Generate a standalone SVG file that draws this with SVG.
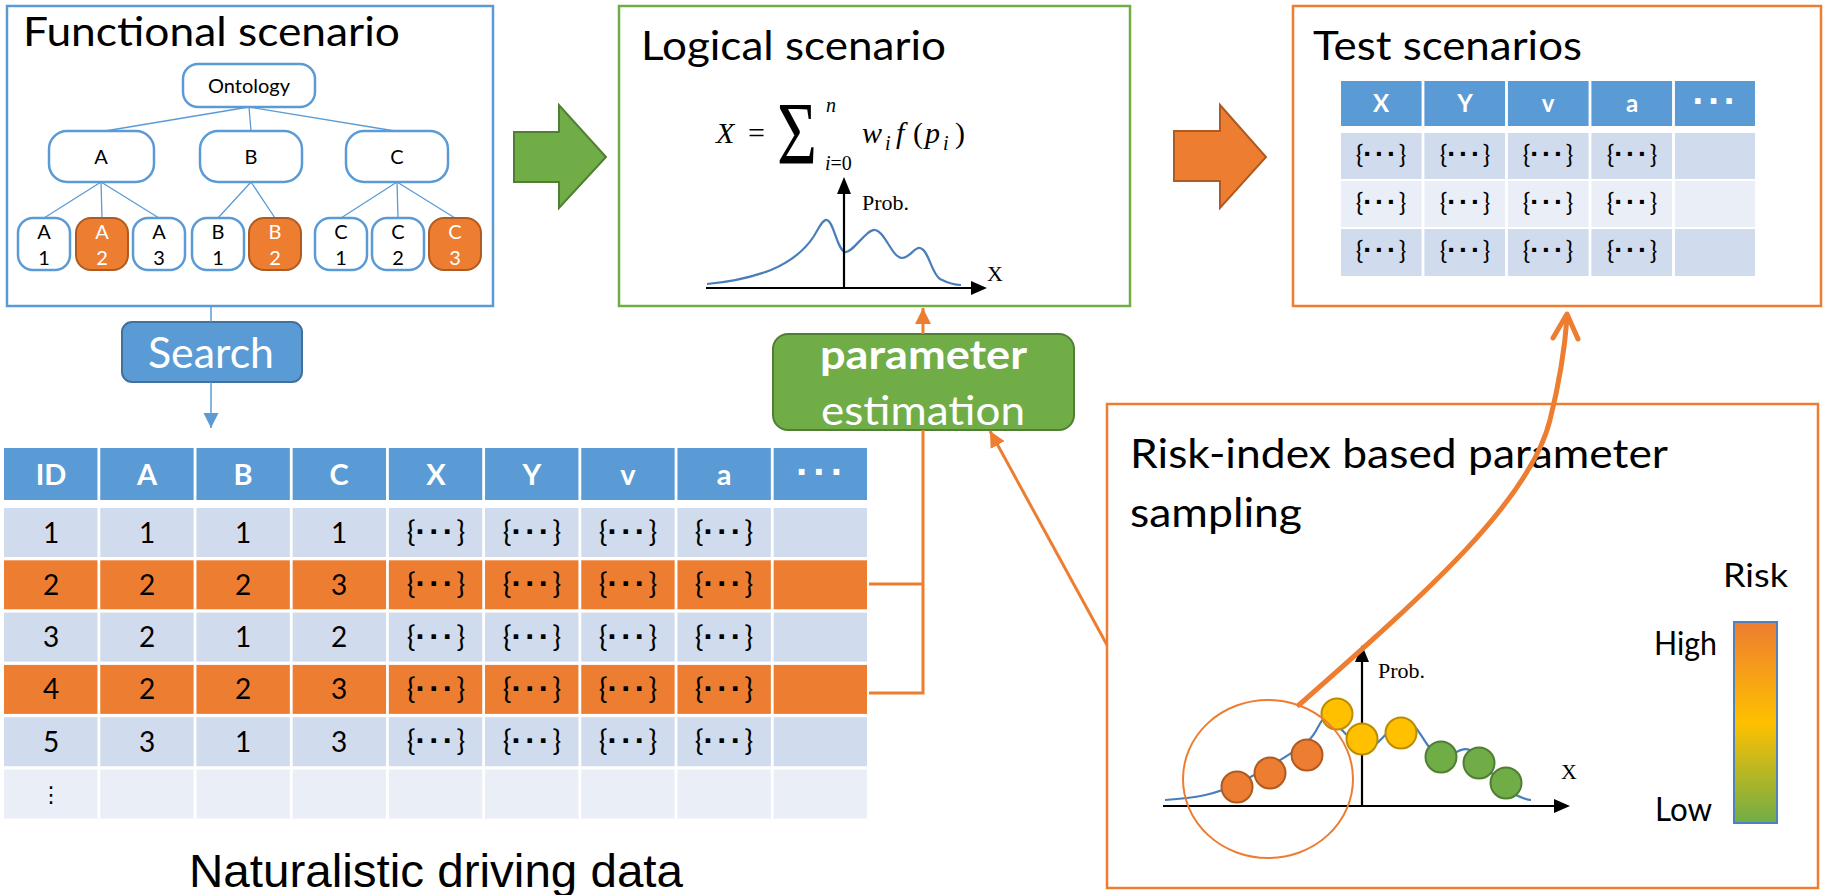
<svg xmlns="http://www.w3.org/2000/svg" width="1827" height="895" viewBox="0 0 1827 895">
<defs>
<style>
.sans{font-family:Lato,"Open Sans",sans-serif}
.title{font-family:Lato,"Open Sans",sans-serif;font-size:41px;fill:#000}
.node{fill:#fff;stroke:#5B9BD5;stroke-width:2.5}
.nodeo{fill:#ED7D31;stroke:#AE5A21;stroke-width:2}
.nt{font-family:Lato,"Open Sans",sans-serif;font-size:20px;fill:#000;text-anchor:middle}
.ntw{font-family:Lato,"Open Sans",sans-serif;font-size:20px;fill:#fff;text-anchor:middle}
.tree{stroke:#5B9BD5;stroke-width:1.3;fill:none}
.hdr{fill:#5B9BD5}
.r1{fill:#D0DBEE}
.r2{fill:#E9EEF7}
.ro{fill:#ED7D31}
.sep{stroke:#fff;stroke-width:2.8}
.ht{font-family:Lato,"Open Sans",sans-serif;font-weight:bold;font-size:29px;fill:#fff;text-anchor:middle}
.ct{font-family:Lato,"Open Sans",sans-serif;font-size:28px;fill:#000;text-anchor:middle}
.bt{font-family:Lato,sans-serif;font-size:29px;fill:#000;text-anchor:middle}
.ht2{font-family:Lato,"Open Sans",sans-serif;font-weight:bold;font-size:24px;fill:#fff;text-anchor:middle}
.bt2{font-family:Lato,sans-serif;font-size:25px;fill:#000;text-anchor:middle}
.d1{font-family:"Liberation Sans",Arial,sans-serif;font-weight:bold;font-size:32px;letter-spacing:3px}
.d2{font-family:"Liberation Sans",Arial,sans-serif;font-weight:bold;font-size:28px;letter-spacing:2.5px}
.dh{font-family:"Liberation Sans",Arial,sans-serif;font-weight:bold;fill:#fff;text-anchor:middle}
.serif{font-family:"Liberation Serif","Times New Roman",serif;fill:#000}
.it{font-style:italic}
.axis{stroke:#000;stroke-width:2.2;fill:none}
.curve{stroke:#4A7EBB;stroke-width:2.2;fill:none}
.oline{stroke:#ED7D31;stroke-width:3;fill:none}
</style>
<marker id="ao" viewBox="0 0 10 10" refX="10" refY="5" markerWidth="16" markerHeight="16" markerUnits="userSpaceOnUse" orient="auto">
<path d="M0,0 L10,5 L0,10 z" fill="#ED7D31"/>
</marker>
<marker id="ab" viewBox="0 0 10 10" refX="10" refY="5" markerWidth="15" markerHeight="16" markerUnits="userSpaceOnUse" orient="auto">
<path d="M0,0 L10,5 L0,10 z" fill="#5B9BD5"/>
</marker>
<linearGradient id="riskg" x1="0" y1="0" x2="0" y2="1">
<stop offset="0" stop-color="#ED7D31"/>
<stop offset="0.5" stop-color="#FFC000"/>
<stop offset="1" stop-color="#70AD47"/>
</linearGradient>
</defs>
<rect width="1827" height="895" fill="#fff"/>

<!-- Functional scenario -->
<g id="functional-scenario">
<rect x="7" y="6" width="486" height="300" fill="#fff" stroke="#5B9BD5" stroke-width="2.5"/>
<text class="title" x="23" y="46" textLength="377" lengthAdjust="spacingAndGlyphs">Functional scenario</text>
</g>
<g id="tree-lines">
<path class="tree" d="M249,107 L105,131 M249,107 L251,131 M249,107 L395,131 M101,182 L44,218 M101,182 L102,218 M101,182 L159,218 M251,182 L218,218 M251,182 L275,218 M397,182 L341,218 M397,182 L398,218 M397,182 L455,218"/>
</g>
<g id="node-ontology"><rect class="node" x="183" y="64" width="132" height="43" rx="15"/><text class="nt" x="249" y="93" font-size="21">Ontology</text></g>
<g id="node-A"><rect class="node" x="49" y="131" width="105" height="51" rx="18"/><text class="nt" x="101" y="164">A</text></g>
<g id="node-B"><rect class="node" x="200" y="131" width="102" height="51" rx="18"/><text class="nt" x="251" y="164">B</text></g>
<g id="node-C"><rect class="node" x="346" y="131" width="102" height="51" rx="18"/><text class="nt" x="397" y="164">C</text></g>
<g id="node-A1"><rect class="node" x="18" y="218" width="52" height="52" rx="15"/><text class="nt" x="44" y="239">A</text><text class="nt" x="44" y="265">1</text></g>
<g id="node-A2"><rect class="nodeo" x="76" y="218" width="52" height="52" rx="15"/><text class="ntw" x="102" y="239">A</text><text class="ntw" x="102" y="265">2</text></g>
<g id="node-A3"><rect class="node" x="133" y="218" width="52" height="52" rx="15"/><text class="nt" x="159" y="239">A</text><text class="nt" x="159" y="265">3</text></g>
<g id="node-B1"><rect class="node" x="192" y="218" width="52" height="52" rx="15"/><text class="nt" x="218" y="239">B</text><text class="nt" x="218" y="265">1</text></g>
<g id="node-B2"><rect class="nodeo" x="249" y="218" width="52" height="52" rx="15"/><text class="ntw" x="275" y="239">B</text><text class="ntw" x="275" y="265">2</text></g>
<g id="node-C1"><rect class="node" x="315" y="218" width="52" height="52" rx="15"/><text class="nt" x="341" y="239">C</text><text class="nt" x="341" y="265">1</text></g>
<g id="node-C2"><rect class="node" x="372" y="218" width="52" height="52" rx="15"/><text class="nt" x="398" y="239">C</text><text class="nt" x="398" y="265">2</text></g>
<g id="node-C3"><rect class="nodeo" x="429" y="218" width="52" height="52" rx="15"/><text class="ntw" x="455" y="239">C</text><text class="ntw" x="455" y="265">3</text></g>

<!-- Logical scenario -->
<g id="logical-scenario">
<rect x="619" y="6" width="511" height="300" fill="#fff" stroke="#70AD47" stroke-width="2.5"/>
<text class="title" x="641" y="60" textLength="305" lengthAdjust="spacingAndGlyphs">Logical scenario</text>
<text class="serif it" x="716" y="143" font-size="30">X</text>
<text class="serif" x="748" y="143" font-size="30">=</text>
<text class="serif" x="777" y="163" font-size="88" textLength="40" lengthAdjust="spacingAndGlyphs">Σ</text>
<text class="serif it" x="826" y="112" font-size="20">n</text>
<text class="serif" x="825" y="170" font-size="20"><tspan font-style="italic">i</tspan>=0</text>
<text class="serif it" x="862" y="143" font-size="30">w</text>
<text class="serif it" x="885" y="150" font-size="20">i</text>
<text class="serif it" x="896" y="143" font-size="30">f</text>
<text class="serif" x="913" y="143" font-size="30">(</text>
<text class="serif it" x="925" y="143" font-size="30">p</text>
<text class="serif it" x="943" y="150" font-size="20">i</text>
<text class="serif" x="955" y="143" font-size="30">)</text>
<path class="curve" d="M707,284 C730,282 750,278 771,270 C790,262 805,250 814,236 C820,226 823,219 827,220 C834,222 837,250 845,252 C852,254 866,229 875,230 C885,231 892,258 902,258 C910,258 914,247 920,248 C929,250 931,273 940,279 C948,283 955,285 961,285"/>
<path class="axis" d="M844,288 V192 M706,288 H973"/>
<polygon points="844,177 837,194 851,194" fill="#000"/>
<polygon points="987,288 971,281 971,295" fill="#000"/>
<text class="serif" x="862" y="210" font-size="22">Prob.</text>
<text class="serif" x="987" y="281" font-size="22">X</text>
</g>

<!-- Test scenarios -->
<g id="test-scenarios">
<rect x="1293" y="6" width="528" height="300" fill="#fff" stroke="#ED7D31" stroke-width="2.5"/>
<text class="title" x="1313" y="60" textLength="269" lengthAdjust="spacingAndGlyphs">Test scenarios</text>
<rect class="hdr" x="1341" y="81" width="414" height="45"/>
<rect class="r1" x="1341" y="133" width="414" height="46"/>
<rect class="r2" x="1341" y="181" width="414" height="46"/>
<rect class="r1" x="1341" y="229" width="414" height="47"/>
<path class="sep" d="M1423,81 V277 M1506.5,81 V277 M1590,81 V277 M1673.5,81 V277"/>
<text class="ht2" x="1381" y="112">X</text>
<text class="ht2" x="1465" y="112">Y</text>
<text class="ht2" x="1548" y="112">v</text>
<text class="ht2" x="1632" y="112">a</text>
<text class="dh" x="1716" y="114" font-size="38" letter-spacing="3">···</text>
<g class="bt2">
<text x="1381" y="163">{<tspan class="d2">···</tspan>}</text><text x="1465" y="163">{<tspan class="d2">···</tspan>}</text><text x="1548" y="163">{<tspan class="d2">···</tspan>}</text><text x="1632" y="163">{<tspan class="d2">···</tspan>}</text>
<text x="1381" y="211">{<tspan class="d2">···</tspan>}</text><text x="1465" y="211">{<tspan class="d2">···</tspan>}</text><text x="1548" y="211">{<tspan class="d2">···</tspan>}</text><text x="1632" y="211">{<tspan class="d2">···</tspan>}</text>
<text x="1381" y="259">{<tspan class="d2">···</tspan>}</text><text x="1465" y="259">{<tspan class="d2">···</tspan>}</text><text x="1548" y="259">{<tspan class="d2">···</tspan>}</text><text x="1632" y="259">{<tspan class="d2">···</tspan>}</text>
</g>
</g>

<!-- Search -->
<g id="search">
<rect x="122" y="322" width="180" height="60" rx="10" fill="#5B9BD5" stroke="#41719C" stroke-width="2"/>
<text class="sans" x="211" y="368" font-size="42" fill="#fff" text-anchor="middle" textLength="126" lengthAdjust="spacingAndGlyphs">Search</text>
</g>

<!-- Naturalistic driving data table -->
<g id="driving-data-table">
<rect class="hdr" x="4" y="448" width="863" height="52"/>
<rect class="r1" x="4" y="508" width="863" height="49"/>
<rect class="ro" x="4" y="560.3" width="863" height="49"/>
<rect class="r1" x="4" y="612.6" width="863" height="49"/>
<rect class="ro" x="4" y="664.9" width="863" height="49"/>
<rect class="r1" x="4" y="717.2" width="863" height="49"/>
<rect class="r2" x="4" y="769.5" width="863" height="49"/>
<path class="sep" d="M98.85,448 V819 M195.05,448 V819 M291.25,448 V819 M387.45,448 V819 M483.65,448 V819 M579.85,448 V819 M676.05,448 V819 M772.25,448 V819"/>
<g class="ht">
<text x="51" y="484.5">ID</text><text x="147" y="484.5">A</text><text x="243" y="484.5">B</text><text x="339" y="484.5">C</text><text x="436" y="484.5">X</text><text x="532" y="484.5">Y</text><text x="628" y="484.5">v</text><text x="724" y="484.5">a</text>
</g>
<text class="dh" x="822" y="486" font-size="40" letter-spacing="4">···</text>
<g class="ct">
<text x="51" y="542.5">1</text><text x="147" y="542.5">1</text><text x="243" y="542.5">1</text><text x="339" y="542.5">1</text>
<text x="51" y="594.8">2</text><text x="147" y="594.8">2</text><text x="243" y="594.8">2</text><text x="339" y="594.8">3</text>
<text x="51" y="647.1">3</text><text x="147" y="647.1">2</text><text x="243" y="647.1">1</text><text x="339" y="647.1">2</text>
<text x="51" y="699.4">4</text><text x="147" y="699.4">2</text><text x="243" y="699.4">2</text><text x="339" y="699.4">3</text>
<text x="51" y="751.7">5</text><text x="147" y="751.7">3</text><text x="243" y="751.7">1</text><text x="339" y="751.7">3</text>
<text x="51" y="802" font-family="DejaVu Sans, sans-serif" font-size="22">⋮</text>
</g>
<g class="bt">
<text x="436" y="542">{<tspan class="d1">···</tspan>}</text><text x="532" y="542">{<tspan class="d1">···</tspan>}</text><text x="628" y="542">{<tspan class="d1">···</tspan>}</text><text x="724" y="542">{<tspan class="d1">···</tspan>}</text>
<text x="436" y="594">{<tspan class="d1">···</tspan>}</text><text x="532" y="594">{<tspan class="d1">···</tspan>}</text><text x="628" y="594">{<tspan class="d1">···</tspan>}</text><text x="724" y="594">{<tspan class="d1">···</tspan>}</text>
<text x="436" y="646.5">{<tspan class="d1">···</tspan>}</text><text x="532" y="646.5">{<tspan class="d1">···</tspan>}</text><text x="628" y="646.5">{<tspan class="d1">···</tspan>}</text><text x="724" y="646.5">{<tspan class="d1">···</tspan>}</text>
<text x="436" y="699">{<tspan class="d1">···</tspan>}</text><text x="532" y="699">{<tspan class="d1">···</tspan>}</text><text x="628" y="699">{<tspan class="d1">···</tspan>}</text><text x="724" y="699">{<tspan class="d1">···</tspan>}</text>
<text x="436" y="751">{<tspan class="d1">···</tspan>}</text><text x="532" y="751">{<tspan class="d1">···</tspan>}</text><text x="628" y="751">{<tspan class="d1">···</tspan>}</text><text x="724" y="751">{<tspan class="d1">···</tspan>}</text>
</g>
<text x="436" y="887" font-family="'Liberation Sans',Arial,sans-serif" font-size="47" text-anchor="middle" textLength="494" lengthAdjust="spacingAndGlyphs">Naturalistic driving data</text>
</g>

<!-- Parameter estimation -->
<g id="parameter-estimation">
<rect x="773" y="334" width="301" height="96" rx="15" fill="#70AD47" stroke="#507E32" stroke-width="2"/>
<text class="sans" x="820" y="369" font-size="41" font-weight="bold" fill="#fff" textLength="207" lengthAdjust="spacingAndGlyphs">parameter</text>
<text class="sans" x="821" y="425" font-size="41" fill="#fff" textLength="204" lengthAdjust="spacingAndGlyphs">estimation</text>
</g>

<!-- Risk-index based parameter sampling -->
<g id="risk-sampling">
<rect x="1107" y="404" width="711" height="484" fill="#fff" stroke="#ED7D31" stroke-width="2.5"/>
<text class="title" x="1130" y="468" textLength="538" lengthAdjust="spacingAndGlyphs">Risk-index based parameter</text>
<text class="title" x="1130" y="527" textLength="172" lengthAdjust="spacingAndGlyphs">sampling</text>
<path class="curve" d="M1165,800 C1195,798 1215,795 1239,783 C1265,770 1295,752 1309,740 C1318,732 1320,718 1326,718 C1336,718 1350,745 1366,748 C1378,750 1390,722 1405,722 C1420,722 1425,752 1440,755 C1455,757 1460,746 1470,750 C1485,756 1495,785 1510,792 C1518,796 1525,800 1531,800"/>
<path class="axis" d="M1362,806 V660 M1163,806 H1556"/>
<polygon points="1362,645 1355,662 1369,662" fill="#000"/>
<polygon points="1570,806 1554,799 1554,813" fill="#000"/>
<text class="serif" x="1378" y="678" font-size="22">Prob.</text>
<text class="serif" x="1561" y="779" font-size="22">X</text>
<g stroke-width="2">
<circle cx="1237" cy="787" r="15.5" fill="#ED7D31" stroke="#AE5A21"/>
<circle cx="1270" cy="773" r="15.5" fill="#ED7D31" stroke="#AE5A21"/>
<circle cx="1307" cy="755" r="15.5" fill="#ED7D31" stroke="#AE5A21"/>
<circle cx="1337" cy="714" r="15.5" fill="#FFC000" stroke="#BC8C00"/>
<circle cx="1362" cy="739" r="15.5" fill="#FFC000" stroke="#BC8C00"/>
<circle cx="1401" cy="733" r="15.5" fill="#FFC000" stroke="#BC8C00"/>
<circle cx="1441" cy="757" r="15.5" fill="#70AD47" stroke="#507E32"/>
<circle cx="1479" cy="763" r="15.5" fill="#70AD47" stroke="#507E32"/>
<circle cx="1506" cy="783" r="15.5" fill="#70AD47" stroke="#507E32"/>
</g>
<ellipse cx="1268" cy="779" rx="85" ry="79" fill="none" stroke="#ED7D31" stroke-width="2"/>
<text class="sans" x="1723" y="587" font-size="33" textLength="65" lengthAdjust="spacingAndGlyphs">Risk</text>
<text class="sans" x="1654" y="655" font-size="33" textLength="63" lengthAdjust="spacingAndGlyphs">High</text>
<text class="sans" x="1655" y="821" font-size="33" textLength="57" lengthAdjust="spacingAndGlyphs">Low</text>
<rect x="1734" y="622" width="43" height="201" fill="url(#riskg)" stroke="#4F81BD" stroke-width="2"/>
</g>

<!-- Connectors -->
<g id="connectors">
<polygon points="514,132 559,132 559,105 606,157 559,208 559,182 514,182" fill="#70AD47" stroke="#507E32" stroke-width="2"/>
<polygon points="1174,131 1220,131 1220,105 1266,157 1220,208 1220,181 1174,181" fill="#ED7D31" stroke="#AE5A21" stroke-width="2"/>
<path d="M211,306 V322" stroke="#5B9BD5" stroke-width="1.5" fill="none"/>
<path d="M211,382 V428" stroke="#5B9BD5" stroke-width="1.5" fill="none" marker-end="url(#ab)"/>
<path class="oline" d="M869,584 H923 M869,693 H923 V430"/>
<path class="oline" d="M923,334 V308" marker-end="url(#ao)"/>
<path class="oline" d="M1107,645 L990,431" marker-end="url(#ao)"/>
<path d="M1299,705 C1430,590 1530,500 1550,420 C1560,380 1565,345 1567,318" stroke="#ED7D31" stroke-width="5" fill="none" stroke-linecap="round"/>
<path d="M1553,338 L1567,314 L1578,339" stroke="#ED7D31" stroke-width="5" fill="none" stroke-linecap="round" stroke-linejoin="round"/>
</g>
</svg>
